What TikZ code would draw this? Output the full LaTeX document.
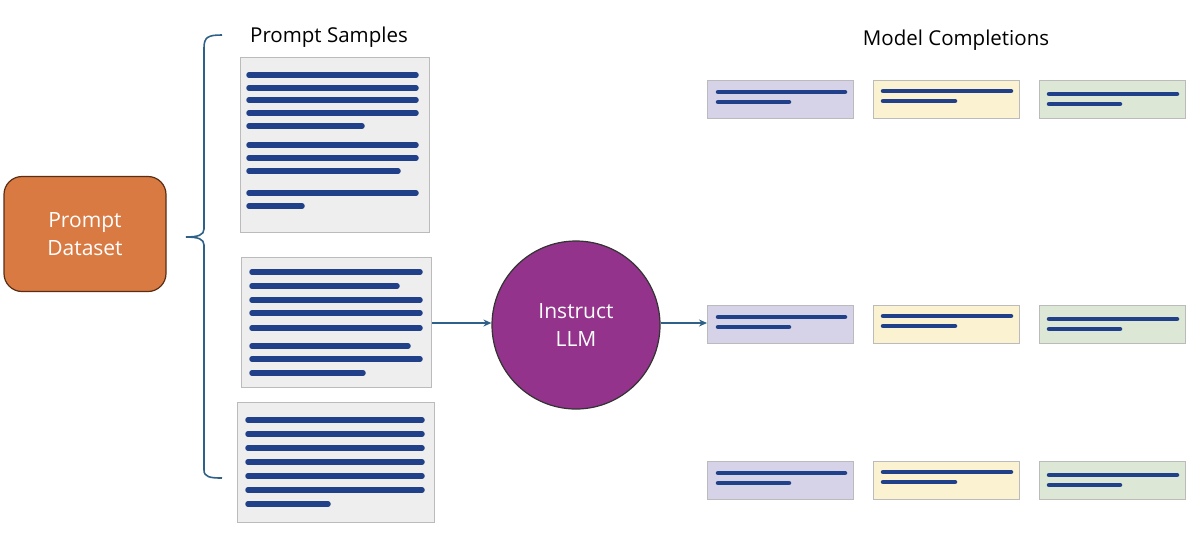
\documentclass[tikz,border=0pt]{standalone}
\usepackage{fontspec}
\setmainfont{Open Sans}
\usetikzlibrary{arrows.meta,calc}
\definecolor{orangeF}{HTML}{DA7A43}
\definecolor{orangeD}{HTML}{5A2E14}
\definecolor{purpleC}{HTML}{93338B}
\definecolor{braceC}{HTML}{2F6188}
\definecolor{barC}{HTML}{21408A}
\definecolor{docF}{HTML}{EEEEEE}
\definecolor{docD}{HTML}{BBBBBB}
\definecolor{cPur}{HTML}{D6D2E7}
\definecolor{cYel}{HTML}{FBF2D2}
\definecolor{cGrn}{HTML}{DCE8D5}
\tikzset{
  doc/.style={draw=docD, fill=docF, line width=1.2pt, anchor=north west, inner sep=0pt},
  bar/.style={draw=barC, line width=5.5pt, line cap=round},
  cbox/.style={draw=docD, line width=1.2pt, anchor=north west, inner sep=0pt, minimum width=146pt, minimum height=38pt},
  conn/.style={draw=braceC, line width=1.3pt, -{Stealth[length=8pt,width=7pt]}},
  lbl/.style={font=\fontsize{20.5}{22}\selectfont, text=black},
  wtxt/.style={align=center, text=white, font=\fontsize{21}{28}\selectfont},
}
\begin{document}
\begin{tikzpicture}[x=1pt,y=-1pt]
\useasboundingbox (0,0) rectangle (1194,542);
% Prompt Dataset
\node[draw=orangeD, fill=orangeF, line width=1.2pt, rounded corners=18pt, minimum width=162pt, minimum height=115pt, wtxt] (pd) at (85,234) {Prompt\\Dataset};
% brace
\coordinate (btip) at (186,237);
\draw[braceC, line width=1.6pt] (222,35) .. controls (208,35) and (204,37) .. (204,48) -- (204,229) .. controls (204,235) and (198,237) .. (btip);
\draw[braceC, line width=1.6pt] (btip) .. controls (198,237) and (204,239) .. (204,245) -- (204,470) .. controls (204,477) and (210,478) .. (222,478);
% label
\node[lbl] (ps) at (329,37) {Prompt Samples};
\node[lbl] (mc) at (956,40) {Model Completions};
% doc 1
\node[doc, minimum width=189pt, minimum height=175pt] (d1) at (240,57) {};
\foreach \y/\e in {75/416,88/416,100/416,113/416,126/362,145/416,158/416,171/398,193/416,206/302}
  \draw[bar] (249,\y) -- (\e,\y);
% doc 2
\node[doc, minimum width=190pt, minimum height=130pt] (d2) at (241,257) {};
\foreach \y/\e in {272/420,286/397,300/420,313/420,328/420,346/408,359/420,373/363}
  \draw[bar] (252,\y) -- (\e,\y);
% doc 3
\node[doc, minimum width=197pt, minimum height=120pt] (d3) at (237,402) {};
\foreach \y/\e in {420/422,434/422,448/422,462/422,476/422,490/422,504/328}
  \draw[bar] (248,\y) -- (\e,\y);
% LLM
\node[circle, draw=black!80, line width=1.2pt, fill=purpleC, minimum size=168pt, inner sep=0pt, wtxt] (llm) at (576,325) {Instruct\\LLM};
% completions
\foreach \r/\yy in {a/80,b/305,c/461}{
  \node[cbox, fill=cPur] (\r1) at (707,\yy) {};
  \node[cbox, fill=cYel] (\r2) at (873,\yy) {};
  \node[cbox, fill=cGrn] (\r3) at (1039,\yy) {};
  \draw[bar, line width=4.5pt] ($(\r1.north west)+(11,12)$) -- ++(127,0);
  \draw[bar, line width=4.5pt] ($(\r1.north west)+(11,22)$) -- ++(71,0);
  \draw[bar, line width=4.5pt] ($(\r2.north west)+(10,11)$) -- ++(128,0);
  \draw[bar, line width=4.5pt] ($(\r2.north west)+(10,21)$) -- ++(72,0);
  \draw[bar, line width=4.5pt] ($(\r3.north west)+(10,14)$) -- ++(128,0);
  \draw[bar, line width=4.5pt] ($(\r3.north west)+(10,24)$) -- ++(71,0);
}
% connectors
\coordinate (la) at (llm.west |- 0,323);
\coordinate (lb) at (llm.east |- 0,323);
\draw[conn] (d2.east |- la) -- (la);
\draw[conn] (lb) -- (b1.west |- lb);
\end{tikzpicture}
\end{document}
